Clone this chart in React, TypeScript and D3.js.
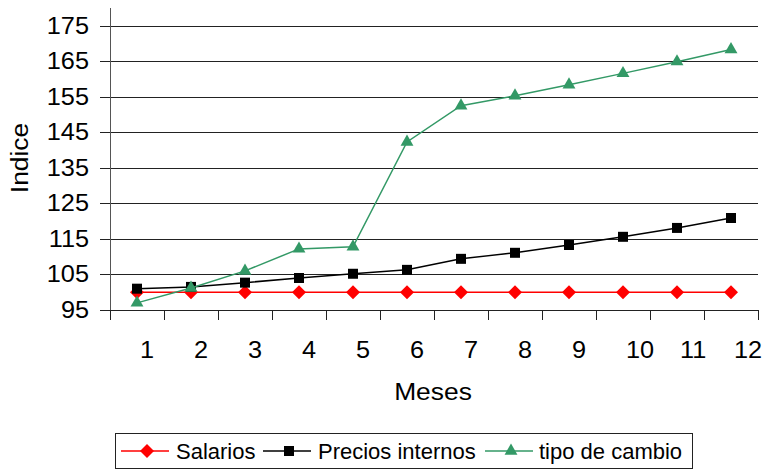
import React, { useEffect, useRef } from "react";
import * as d3 from "d3";

const months = ["1", "2", "3", "4", "5", "6", "7", "8", "9", "10", "11", "12"];
const salarios = [100, 100, 100, 100, 100, 100, 100, 100, 100, 100, 100, 100];
const precios = [101, 101.5, 102.7, 104, 105.2, 106.3, 109.4, 111.1, 113.3, 115.6, 118.1, 120.9];
const tipoCambio = [97, 101.2, 106, 112.2, 112.8, 142.3, 152.5, 155.3, 158.4, 161.6, 164.9, 168.3];
const yTicks = [95, 105, 115, 125, 135, 145, 155, 165, 175];

const W = 764, H = 469;
const FONT = "'Liberation Sans', Arial, sans-serif";

export default function App() {
  const ref = useRef<SVGSVGElement>(null);
  useEffect(() => {
    document.body.style.margin = "0";
    const svg = d3.select(ref.current);
    svg.selectAll("*").remove();
    const left = 110, right = 758, top = 8, bottom = 310;
    const x = d3.scaleBand<string>().domain(months).range([left, right]);
    const y = d3.scaleLinear().domain([95, 180]).range([bottom, top]);
    const cx = (m: string) => (x(m) as number) + x.bandwidth() / 2;

    // gridlines
    svg.append("g").selectAll("line").data(yTicks.filter(t => t !== 95)).join("line")
      .attr("x1", left).attr("x2", right)
      .attr("y1", d => Math.round(y(d)) + 0.5).attr("y2", d => Math.round(y(d)) + 0.5)
      .attr("stroke", "#222").attr("stroke-width", 1);

    // y axis
    svg.append("line").attr("x1", left + 0.5).attr("x2", left + 0.5).attr("y1", top).attr("y2", bottom)
      .attr("stroke", "#555");
    svg.append("g").selectAll("line").data(yTicks).join("line")
      .attr("x1", left - 10).attr("x2", left)
      .attr("y1", d => Math.round(y(d)) + 0.5).attr("y2", d => Math.round(y(d)) + 0.5)
      .attr("stroke", "#222");
    svg.append("g").selectAll("text").data(yTicks).join("text")
      .attr("transform", d => `translate(${left - 21},${y(d) + 8}) scale(1.1,1)`)
      .attr("text-anchor", "end").attr("font-family", FONT).attr("font-size", 23)
      .text(d => d);

    // x axis
    svg.append("line").attr("x1", left).attr("x2", right).attr("y1", bottom + 0.5).attr("y2", bottom + 0.5)
      .attr("stroke", "#222");
    const tickXs = months.map(m => x(m) as number).concat([right]);
    svg.append("g").selectAll("line").data(tickXs).join("line")
      .attr("x1", d => Math.round(d) + 0.5).attr("x2", d => Math.round(d) + 0.5)
      .attr("y1", bottom).attr("y2", bottom + 10).attr("stroke", "#222");
    svg.append("g").selectAll("text").data(months).join("text")
      .attr("transform", d => `translate(${cx(d) + 3},358) scale(1.1,1)`)
      .attr("text-anchor", "start").attr("font-family", FONT).attr("font-size", 23)
      .text(d => d);

    // axis titles
    svg.append("text").attr("transform", "translate(28,158) rotate(-90) scale(1.1,1)")
      .attr("text-anchor", "middle").attr("font-family", FONT).attr("font-size", 24).text("Indice");
    svg.append("text").attr("transform", "translate(433,400) scale(1.1,1)")
      .attr("text-anchor", "middle").attr("font-family", FONT).attr("font-size", 24).text("Meses");

    const diamond = (s: number) => `M0,${-s}L${s},0L0,${s}L${-s},0Z`;
    const line = d3.line<number>().x((_, i) => cx(months[i])).y(d => y(d));
    const series = [
      { data: salarios, color: "#FF0000", path: diamond(7) },
      { data: precios, color: "#000000", path: d3.symbol().type(d3.symbolSquare).size(100)() as string },
      { data: tipoCambio, color: "#339966", path: d3.symbol().type(d3.symbolTriangle).size(72)() as string },
    ];
    series.forEach(s => {
      svg.append("path").attr("d", line(s.data)).attr("fill", "none").attr("stroke", s.color).attr("stroke-width", 1.5);
      svg.append("g").selectAll("path").data(s.data).join("path")
        .attr("transform", (d, i) => `translate(${cx(months[i])},${y(d)})`)
        .attr("d", s.path)
        .attr("fill", s.color);
    });

    // legend
    svg.append("rect").attr("x", 115.5).attr("y", 433.5).attr("width", 577).attr("height", 35)
      .attr("fill", "none").attr("stroke", "#222");
    const items = [
      { label: "Salarios", x0: 121, tx: 176, ...series[0] },
      { label: "Precios internos", x0: 263, tx: 318, ...series[1] },
      { label: "tipo de cambio", x0: 485, tx: 539, ...series[2] },
    ];
    const ly = 451;
    items.forEach(it => {
      svg.append("line").attr("x1", it.x0).attr("x2", it.x0 + 48).attr("y1", ly).attr("y2", ly)
        .attr("stroke", it.color).attr("stroke-width", 1.5);
      svg.append("path").attr("transform", `translate(${it.x0 + 26},${ly})`)
        .attr("d", it.path).attr("fill", it.color);
      svg.append("text").attr("x", it.tx).attr("y", ly + 8).attr("font-family", FONT).attr("font-size", 22)
        .text(it.label);
    });
  }, []);
  return <svg ref={ref} width={W} height={H} style={{ display: "block", background: "#fff" }} />;
}
